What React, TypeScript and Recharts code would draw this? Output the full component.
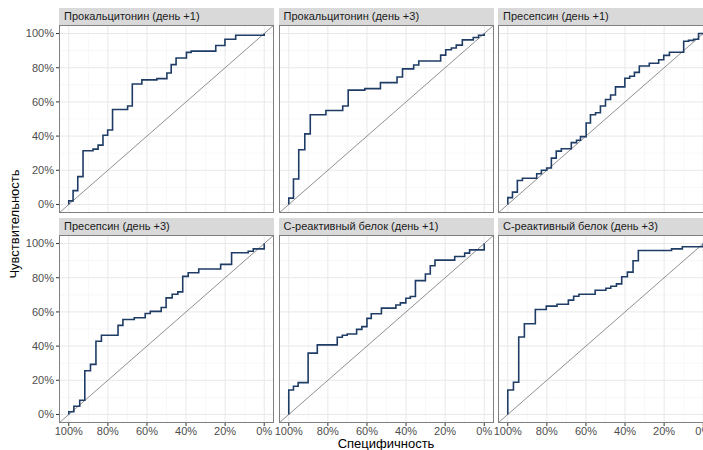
import React from 'react';
import { LineChart, Line, XAxis, YAxis, ReferenceLine } from 'recharts';

// panel titles in facet order
const titles = [
  'Прокальцитонин (день +1)',
  'Прокальцитонин (день +3)',
  'Пресепсин (день +1)',
  'Пресепсин (день +3)',
  'С-реактивный белок (день +1)',
  'С-реактивный белок (день +3)',
];

// ROC steps: specificity (%) and sensitivity (%) at each step
const pct1Spec = [100, 100, 97.8, 95.4, 92.7, 87.6, 85.0, 82.5, 80.1, 77.6, 69.9, 67.5, 62.6, 54.9, 49.8, 47.6, 45.1, 39.8, 37.4, 24.8, 20.1, 14.6, 0];
const pct1Sens = [0, 2.1, 8.1, 16.3, 31.4, 32.4, 34.7, 40.5, 43.6, 55.6, 57.6, 70.5, 72.9, 73.6, 76.9, 81.8, 85.7, 89.0, 89.7, 93.0, 96.7, 99.0, 100];

const pct3Spec = [100, 100, 97.6, 94.9, 91.8, 89.0, 81.0, 72.4, 69.6, 61.1, 53.1, 44.6, 41.8, 36.1, 33.5, 22.3, 19.7, 16.8, 14.3, 11.2, 5.6, 2.9, 0];
const pct3Sens = [0, 3.7, 14.9, 32.0, 41.3, 52.5, 55.0, 57.6, 66.9, 67.8, 71.3, 74.6, 79.3, 81.6, 83.9, 87.4, 90.5, 91.5, 93.2, 96.3, 97.7, 99.0, 100];

const psp1Spec = [100, 100, 97.6, 95.1, 92.5, 85.2, 82.8, 80.1, 77.7, 75.2, 72.6, 67.5, 64.8, 62.8, 59.9, 57.7, 55.1, 52.6, 50.0, 47.4, 44.9, 40.1, 37.6, 35.2, 32.7, 27.6, 22.8, 20.2, 17.3, 10.0, 7.5, 4.9, 2.4, 0];
const psp1Sens = [0, 4.0, 7.2, 14.0, 15.3, 18.0, 20.0, 21.3, 27.1, 31.2, 32.6, 36.2, 37.6, 39.7, 47.7, 52.5, 53.7, 57.6, 61.4, 64.0, 68.8, 73.8, 75.0, 77.3, 81.0, 82.6, 84.7, 87.2, 89.1, 95.5, 96.0, 96.7, 100, 100];

const psp3Spec = [100, 100, 97.4, 94.4, 91.8, 88.9, 86.1, 83.3, 74.8, 72.3, 66.5, 60.9, 58.3, 52.7, 50.2, 47.1, 44.2, 41.7, 38.9, 33.5, 22.3, 16.7, 8.2, 5.6, 0];
const psp3Sens = [0, 1.6, 4.8, 8.3, 25.6, 29.3, 42.8, 46.3, 52.1, 55.6, 56.6, 59.1, 60.3, 62.6, 68.2, 70.3, 71.7, 80.8, 82.9, 85.1, 87.8, 94.6, 95.5, 96.9, 100];

const crp1Spec = [100, 100, 97.6, 95.2, 90.1, 85.4, 75.2, 72.6, 70.1, 65.3, 62.6, 60.0, 57.8, 52.6, 45.2, 42.9, 40.1, 37.8, 35.2, 30.1, 27.6, 25.2, 15.1, 10.0, 7.5, 0];
const crp1Sens = [0, 14.3, 16.5, 18.6, 35.9, 40.7, 45.2, 46.3, 47.1, 49.8, 51.4, 56.2, 58.9, 62.2, 64.0, 65.3, 68.0, 69.0, 78.3, 82.2, 87.0, 90.3, 92.4, 94.4, 96.3, 100];

const crp3Spec = [100, 100, 97.1, 94.4, 91.5, 85.9, 80.3, 74.8, 69.0, 66.3, 63.6, 55.3, 49.8, 47.3, 44.4, 41.7, 38.8, 35.9, 33.2, 16.2, 10.7, 0];
const crp3Sens = [0, 14.3, 18.8, 45.3, 53.1, 61.4, 63.4, 64.5, 66.9, 69.2, 70.3, 72.7, 73.8, 75.0, 76.4, 80.6, 83.3, 89.9, 95.9, 96.9, 98.1, 100];

const specs = [pct1Spec, pct3Spec, psp1Spec, psp3Spec, crp1Spec, crp3Spec];
const senss = [pct1Sens, pct3Sens, psp1Sens, psp3Sens, crp1Sens, crp3Sens];

const majorTicks = [0, 20, 40, 60, 80, 100];
const minorTicks = [10, 30, 50, 70, 90];
const xTicks = [100, 80, 60, 40, 20, 0];

const FONT = '"Liberation Sans", Arial, sans-serif';
const PANEL_W = 215;
const PANEL_H = 188;
const STRIP_H = 17;
const Y_AXIS_W = 59;
const X_AXIS_H = 26;
const PAD = 16; // room for tick labels that stick out of the panel
const colLeft = [59, 278.5, 498];
const rowTop = [8, 218];

const fmt = (v: number) => `${v}%`;

const Panel = ({ idx }: { idx: number }) => {
  const col = idx % 3;
  const row = Math.floor(idx / 3);
  const showY = col === 0;
  const showX = row === 1;
  const data = specs[idx].map((s, i) => ({ spec: s, sens: senss[idx][i] }));
  const padL = showY ? 0 : PAD;
  const width = PANEL_W + (showY ? Y_AXIS_W : 0) + padL + PAD;
  const height = PANEL_H + (showX ? X_AXIS_H : 0);
  const left = colLeft[col] - (showY ? Y_AXIS_W : 0) - padL;
  const top = rowTop[row] + STRIP_H;
  const tickStyle = { fill: '#4d4d4d', fontSize: 11, fontFamily: FONT };
  return (
    <>
      <div
        style={{
          position: 'absolute',
          left: colLeft[col],
          top: rowTop[row],
          width: PANEL_W,
          height: STRIP_H,
          background: '#d9d9d9',
          fontFamily: FONT,
          fontSize: 11,
          color: '#1a1a1a',
          lineHeight: `${STRIP_H}px`,
          paddingLeft: 5,
          boxSizing: 'border-box',
          whiteSpace: 'nowrap',
          overflow: 'hidden',
        }}
      >
        {titles[idx]}
      </div>
      <div style={{ position: 'absolute', left, top }}>
        <LineChart width={width} height={height} data={data} margin={{ top: 0, right: PAD, bottom: 0, left: padL }}>
          <XAxis
            dataKey="spec"
            type="number"
            domain={[-5, 105]}
            reversed
            ticks={xTicks}
            tickFormatter={fmt}
            hide={!showX}
            height={X_AXIS_H}
            axisLine={false}
            tickSize={3}
            tickMargin={1}
            tickLine={{ stroke: '#333333' }}
            tick={tickStyle}
            interval={0}
          />
          <YAxis
            dataKey="sens"
            type="number"
            domain={[-5, 105]}
            ticks={majorTicks}
            tickFormatter={fmt}
            hide={!showY}
            width={Y_AXIS_W}
            axisLine={false}
            tickSize={3}
            tickMargin={2}
            tickLine={{ stroke: '#333333' }}
            tick={tickStyle}
            interval={0}
          />
          {minorTicks.map((v) => (
            <ReferenceLine key={`mx${v}`} x={v} stroke="#f4f4f4" strokeWidth={0.6} />
          ))}
          {minorTicks.map((v) => (
            <ReferenceLine key={`my${v}`} y={v} stroke="#f4f4f4" strokeWidth={0.6} />
          ))}
          {majorTicks.map((v) => (
            <ReferenceLine key={`Mx${v}`} x={v} stroke="#e8e8e8" strokeWidth={1} />
          ))}
          {majorTicks.map((v) => (
            <ReferenceLine key={`My${v}`} y={v} stroke="#e8e8e8" strokeWidth={1} />
          ))}
          <ReferenceLine
            segment={[
              { x: 105, y: -5 },
              { x: -5, y: 105 },
            ]}
            stroke="#8f8f8f"
            strokeWidth={1}
            ifOverflow="visible"
          />
          <Line
            type="stepAfter"
            dataKey="sens"
            stroke="#1f3c66"
            strokeWidth={1.6}
            dot={false}
            isAnimationActive={false}
          />
        </LineChart>
      </div>
      <div
        style={{
          position: 'absolute',
          left: colLeft[col],
          top,
          width: PANEL_W,
          height: PANEL_H,
          border: '1px solid #7f7f7f',
          boxSizing: 'border-box',
          pointerEvents: 'none',
        }}
      />
    </>
  );
};

export default function App() {
  return (
    <div
      style={{
        position: 'absolute',
        left: 0,
        top: 0,
        width: 703,
        height: 450,
        overflow: 'hidden',
        background: '#ffffff',
      }}
    >
      {titles.map((t, i) => (
        <Panel key={t} idx={i} />
      ))}
      <div
        style={{
          position: 'absolute',
          left: 59,
          width: 654,
          top: 437,
          textAlign: 'center',
          fontFamily: FONT,
          fontSize: 13,
          color: '#000000',
          lineHeight: '13px',
        }}
      >
        Специфичность
      </div>
      <div
        style={{
          position: 'absolute',
          left: 14,
          top: 224,
          transform: 'translate(-50%, -50%) rotate(-90deg)',
          fontFamily: FONT,
          fontSize: 13,
          color: '#000000',
          whiteSpace: 'nowrap',
          lineHeight: '13px',
        }}
      >
        Чувствительность
      </div>
    </div>
  );
}
